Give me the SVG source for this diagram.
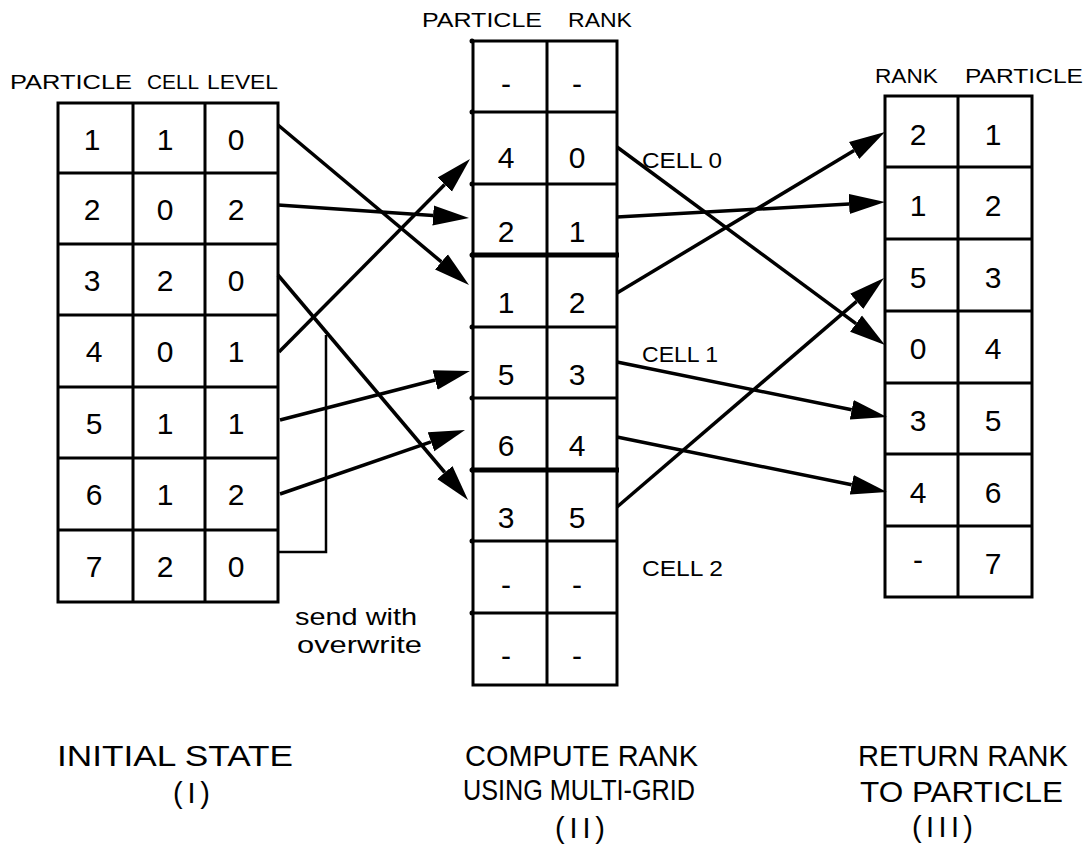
<svg xmlns="http://www.w3.org/2000/svg" width="1088" height="846" viewBox="0 0 1088 846">
  <defs>
    <marker id="head" markerUnits="userSpaceOnUse" markerWidth="38" markerHeight="22" viewBox="0 -11 38 22" refX="0" refY="0" orient="auto">
      <path d="M0,-10 L36,0 L0,10 Z" fill="#000"/>
    </marker>
    <style>
      .grid { fill: none; stroke: #000; stroke-width: 3; }
      .thick { stroke: #000; stroke-width: 5; }
      .num { font-family: "Liberation Sans", Arial, sans-serif; font-size: 30px; text-anchor: middle; fill: #000; }
      .hdr { font-family: "Liberation Sans", Arial, sans-serif; font-size: 21px; fill: #000; }
      .cell { font-family: "Liberation Sans", Arial, sans-serif; font-size: 22px; fill: #000; }
      .note { font-family: "Liberation Sans", Arial, sans-serif; font-size: 24px; fill: #000; }
      .cap { font-family: "Liberation Sans", Arial, sans-serif; font-size: 29px; fill: #000; }
      .arrow { stroke: #000; stroke-width: 3.5; fill: none; marker-end: url(#head); }
      .tick { fill: #000; }
    </style>
  </defs>
  <rect width="1088" height="846" fill="#fff"/>

  <!-- Stage I: particle / cell / level table -->
  <g id="initial-state">
    <text class="hdr" x="10" y="89" textLength="122" lengthAdjust="spacingAndGlyphs">PARTICLE</text>
    <text class="hdr" x="147" y="89" textLength="52" lengthAdjust="spacingAndGlyphs">CELL</text>
    <text class="hdr" x="207" y="89" textLength="71" lengthAdjust="spacingAndGlyphs">LEVEL</text>
    <rect class="grid" x="58" y="103" width="220" height="499"/>
    <path class="grid" d="M133,103 V602 M205,103 V602 M58,173 H278 M58,244 H278 M58,315 H278 M58,387 H278 M58,458 H278 M58,530 H278"/>
    <g class="num">
      <text x="92" y="150">1</text><text x="165" y="150">1</text><text x="236" y="150">0</text>
      <text x="92" y="220">2</text><text x="165" y="220">0</text><text x="236" y="220">2</text>
      <text x="92" y="291">3</text><text x="165" y="291">2</text><text x="236" y="291">0</text>
      <text x="94" y="362">4</text><text x="165" y="362">0</text><text x="236" y="362">1</text>
      <text x="94" y="434">5</text><text x="165" y="434">1</text><text x="236" y="434">1</text>
      <text x="94" y="505">6</text><text x="165" y="505">1</text><text x="236" y="505">2</text>
      <text x="94" y="577">7</text><text x="165" y="577">2</text><text x="236" y="577">0</text>
    </g>
  </g>

  <!-- Stage II: particle / rank table split into cells -->
  <g id="compute-rank">
    <text class="hdr" x="422" y="27" textLength="120" lengthAdjust="spacingAndGlyphs">PARTICLE</text>
    <text class="hdr" x="568" y="27" textLength="64" lengthAdjust="spacingAndGlyphs">RANK</text>
    <rect class="grid" x="473" y="41" width="144" height="644"/>
    <path class="grid" d="M547,41 V685 M473,112 H617 M473,184 H617 M473,327 H617 M473,398 H617 M473,541 H617 M473,613 H617"/>
    <path class="thick" d="M471,255 H619 M471,470 H619"/>
    <g class="tick">
      <circle cx="472" cy="41" r="2.5"/><circle cx="472" cy="112" r="2.5"/><circle cx="472" cy="184" r="2.5"/>
      <circle cx="472" cy="255" r="2.5"/><circle cx="472" cy="327" r="2.5"/><circle cx="472" cy="398" r="2.5"/>
      <circle cx="472" cy="470" r="2.5"/><circle cx="472" cy="541" r="2.5"/><circle cx="472" cy="613" r="2.5"/>
    </g>
    <g class="num">
      <text x="506" y="94">-</text><text x="577" y="94">-</text>
      <text x="506" y="168">4</text><text x="577" y="168">0</text>
      <text x="506" y="242">2</text><text x="577" y="242">1</text>
      <text x="506" y="313">1</text><text x="577" y="313">2</text>
      <text x="506" y="385">5</text><text x="577" y="385">3</text>
      <text x="506" y="456">6</text><text x="577" y="456">4</text>
      <text x="506" y="528">3</text><text x="577" y="528">5</text>
      <text x="506" y="595">-</text><text x="577" y="595">-</text>
      <text x="506" y="666">-</text><text x="577" y="666">-</text>
    </g>
    <text class="cell" x="642" y="168" textLength="80" lengthAdjust="spacingAndGlyphs">CELL 0</text>
    <text class="cell" x="642" y="362" textLength="76" lengthAdjust="spacingAndGlyphs">CELL 1</text>
    <text class="cell" x="642" y="576" textLength="81" lengthAdjust="spacingAndGlyphs">CELL 2</text>
  </g>

  <!-- Stage III: rank returned to particle -->
  <g id="return-rank">
    <text class="hdr" x="875" y="83" textLength="63" lengthAdjust="spacingAndGlyphs">RANK</text>
    <text class="hdr" x="965" y="83" textLength="118" lengthAdjust="spacingAndGlyphs">PARTICLE</text>
    <rect class="grid" x="885" y="96" width="147" height="501"/>
    <path class="grid" d="M958,96 V597 M885,167 H1032 M885,239 H1032 M885,311 H1032 M885,383 H1032 M885,454 H1032 M885,526 H1032"/>
    <g class="num">
      <text x="918" y="145">2</text><text x="993" y="145">1</text>
      <text x="918" y="216">1</text><text x="993" y="216">2</text>
      <text x="918" y="288">5</text><text x="993" y="288">3</text>
      <text x="918" y="359">0</text><text x="993" y="359">4</text>
      <text x="918" y="431">3</text><text x="993" y="431">5</text>
      <text x="918" y="503">4</text><text x="993" y="503">6</text>
      <text x="918" y="570">-</text><text x="993" y="574">7</text>
    </g>
  </g>

  <!-- Send and return connectors -->
  <g id="connectors">
    <line class="arrow" x1="278" y1="125" x2="441.4" y2="261.9"/>
    <line class="arrow" x1="278" y1="205" x2="433.1" y2="215.6"/>
    <line class="arrow" x1="278" y1="275" x2="444.8" y2="472.5"/>
    <line class="arrow" x1="279" y1="352" x2="444.7" y2="184.6"/>
    <line class="arrow" x1="280" y1="420" x2="435.1" y2="380.0"/>
    <line class="arrow" x1="280" y1="494" x2="431.0" y2="441.8"/>
    <polyline points="278,552 326,552 326,335" fill="none" stroke="#000" stroke-width="2.5"/>

    <line class="arrow" x1="617" y1="147" x2="856.0" y2="323.6"/>
    <line class="arrow" x1="617" y1="217" x2="849.1" y2="204.0"/>
    <line class="arrow" x1="617" y1="293" x2="854.1" y2="150.5"/>
    <line class="arrow" x1="617" y1="507" x2="856.7" y2="301.4"/>
    <line class="arrow" x1="617" y1="362" x2="851.7" y2="409.8"/>
    <line class="arrow" x1="617" y1="437" x2="851.7" y2="484.8"/>
  </g>

  <g id="send-note">
    <text class="note" x="295" y="625" textLength="122" lengthAdjust="spacingAndGlyphs">send with</text>
    <text class="note" x="297" y="653" textLength="125" lengthAdjust="spacingAndGlyphs">overwrite</text>
  </g>

  <!-- Stage captions -->
  <g id="captions">
    <text class="cap" x="57" y="766" textLength="236" lengthAdjust="spacingAndGlyphs">INITIAL STATE</text>
    <text class="cap" x="173" y="803" textLength="37" lengthAdjust="spacing">(I)</text>
    <text class="cap" x="465" y="766" textLength="233" lengthAdjust="spacingAndGlyphs">COMPUTE RANK</text>
    <text class="cap" x="463" y="800" textLength="232" lengthAdjust="spacingAndGlyphs">USING MULTI-GRID</text>
    <text class="cap" x="555" y="838" textLength="50" lengthAdjust="spacing">(II)</text>
    <text class="cap" x="858" y="766" textLength="210" lengthAdjust="spacingAndGlyphs">RETURN RANK</text>
    <text class="cap" x="860" y="802" textLength="203" lengthAdjust="spacingAndGlyphs">TO PARTICLE</text>
    <text class="cap" x="912" y="837" textLength="61" lengthAdjust="spacing">(III)</text>
  </g>
</svg>
